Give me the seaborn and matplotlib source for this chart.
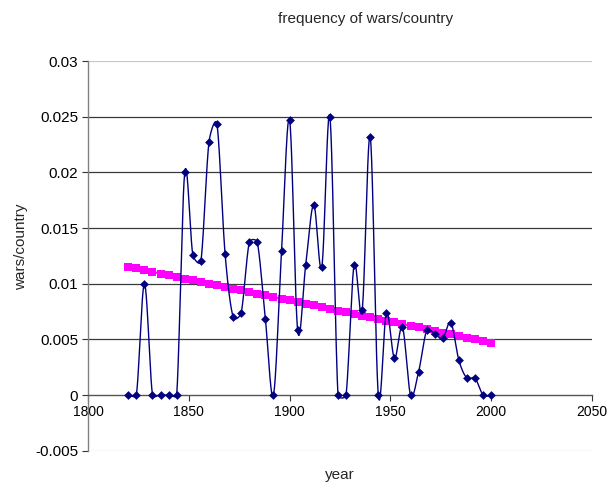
import numpy as np
import pandas as pd
import matplotlib
matplotlib.use("Agg")
import matplotlib.pyplot as plt
import seaborn as sns

# data
years = [1820, 1824, 1828, 1832, 1836, 1840, 1844, 1848, 1852, 1856,
         1860, 1864, 1868, 1872, 1876, 1880, 1884, 1888, 1892, 1896,
         1900, 1904, 1908, 1912, 1916, 1920, 1924, 1928, 1932, 1936,
         1940, 1944, 1948, 1952, 1956, 1960, 1964, 1968, 1972, 1976,
         1980, 1984, 1988, 1992, 1996, 2000]
wars_per_country = [0, 0, 0.0100, 0, 0, 0, 0, 0.0200, 0.0126, 0.0120,
                    0.0227, 0.0243, 0.0127, 0.0070, 0.0074, 0.0137, 0.0137, 0.0068, 0, 0.0129,
                    0.0247, 0.0058, 0.0117, 0.0171, 0.0115, 0.0250, 0, 0, 0.0117, 0.0076,
                    0.0232, 0, 0.0074, 0.0033, 0.0061, 0, 0.0021, 0.0058, 0.0055, 0.0051,
                    0.0065, 0.0031, 0.0015, 0.0015, 0, 0]
trend = [0.01152, 0.01137, 0.01122, 0.01106, 0.01091, 0.01076, 0.01061, 0.01046, 0.01031, 0.01016,
         0.01000, 0.00985, 0.00970, 0.00955, 0.00940, 0.00925, 0.00910, 0.00894, 0.00879, 0.00864,
         0.00849, 0.00834, 0.00819, 0.00804, 0.00788, 0.00773, 0.00758, 0.00743, 0.00728, 0.00713,
         0.00698, 0.00682, 0.00667, 0.00652, 0.00637, 0.00622, 0.00607, 0.00592, 0.00576, 0.00561,
         0.00546, 0.00531, 0.00516, 0.00501, 0.00486, 0.00470]
x_ticks = [1800, 1850, 1900, 1950, 2000, 2050]
y_ticks = [-0.005, 0, 0.005, 0.01, 0.015, 0.02, 0.025, 0.03]
y_labels = ["-0.005", "0", "0.005", "0.01", "0.015", "0.02", "0.025", "0.03"]

df = pd.DataFrame({"year": years, "wars": wars_per_country, "trend": trend})

# approx pixel scale of the plot area, used for the smoothing
SX = 2.016      # px per year
SY = 11134.0    # px per unit


def smooth(x, y, n=24):
    # excel-like smoothed line: bezier with 1/6 tension, tangents
    # limited to half of the segment length (done in pixel space)
    px = np.asarray(x, float) * SX
    py = np.asarray(y, float) * SY
    P = np.column_stack([px, py])
    P = np.vstack([P[0], P, P[-1]])
    t = np.linspace(0, 1, n)[:, None]
    out = []
    for i in range(1, len(P) - 2):
        p0, p1, p2, p3 = P[i - 1], P[i], P[i + 1], P[i + 2]
        d12 = np.hypot(*(p2 - p1))
        d02 = np.hypot(*(p2 - p0))
        d13 = np.hypot(*(p3 - p1))
        f1 = 1 / 6
        f2 = 1 / 6
        if d02 * f1 > d12 / 2 and d02 > 0:
            f1 = d12 / (2 * d02)
        if d13 * f2 > d12 / 2 and d13 > 0:
            f2 = d12 / (2 * d13)
        c1 = p1 + f1 * (p2 - p0)
        c2 = p2 - f2 * (p3 - p1)
        seg = ((1 - t) ** 3) * p1 + 3 * ((1 - t) ** 2) * t * c1 + 3 * (1 - t) * t ** 2 * c2 + t ** 3 * p2
        out.append(seg)
    out = np.vstack(out)
    return out[:, 0] / SX, out[:, 1] / SY


sns.set_style("white")
plt.rcParams['font.family'] = ['Liberation Sans', 'DejaVu Sans']

fig = plt.figure(figsize=(6.08, 4.87), dpi=100)
ax = fig.add_axes([0.1447, 0.0746, 0.829, 0.8001])

# grid lines like excel
for v in y_ticks:
    if v == 0:
        continue
    col = '#c8c8c8' if v in (-0.005, 0.03) else '#3a3a3a'
    ax.axhline(v, color=col, lw=0.9, zorder=0)

# trend series (magenta squares)
sns.lineplot(data=df, x="year", y="trend", ax=ax, color='#FF00FF', lw=1.5,
             marker='s', markersize=5.5, markeredgewidth=0, zorder=3)

# smoothed data line + diamonds
sx, sy = smooth(df["year"], df["wars"])
ax.plot(sx, sy, color='#000080', lw=1.0, zorder=4)
sns.scatterplot(data=df, x="year", y="wars", ax=ax, color='#000080', marker='D',
                s=20, edgecolor='#000080', linewidth=0, zorder=5)

ax.set_xlim(1800, 2050)
ax.set_ylim(-0.005, 0.03)
ax.set_xticks(x_ticks)
ax.set_xticklabels([str(v) for v in x_ticks], fontsize=11)
ax.set_yticks(y_ticks)
ax.set_yticklabels(y_labels, fontsize=11)

for s in ["top", "right"]:
    ax.spines[s].set_visible(False)
ax.spines["bottom"].set_position(("data", 0))
ax.spines["bottom"].set_color('#555555')
ax.spines["left"].set_color('#808080')
ax.spines["bottom"].set_linewidth(1.0)
ax.spines["left"].set_linewidth(1.0)
ax.tick_params(axis='both', direction='out', length=4, width=0.8, color='#333333',
               labelcolor='black', pad=3, bottom=True, left=True)

ax.set_xlabel("")
ax.set_ylabel("")
fig.text(0.034, 0.493, "wars/country", rotation=90, ha='center', va='center', fontsize=11)
fig.text(0.559, 0.025, "year", ha='center', va='center', fontsize=11)
fig.text(0.602, 0.962, "frequency of wars/country", ha='center', va='center', fontsize=11)

fig.savefig("out.png", dpi=100)
